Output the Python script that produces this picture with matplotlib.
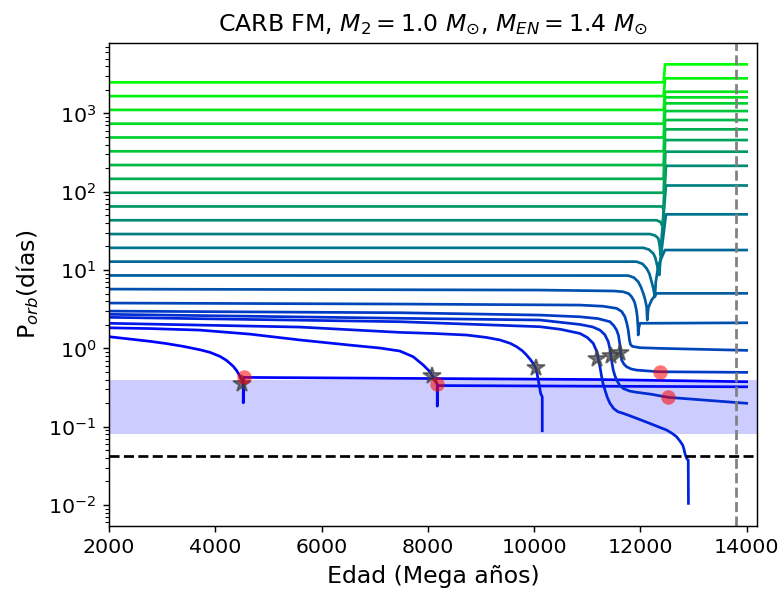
import numpy as np
import matplotlib.pyplot as plt

# Trazas evolutivas: (edad [Myr], P_orb [días]), de la más compacta a la más ancha
traza_00 = [(2000, 1.41), (2457, 1.30), (2772, 1.23), (3086, 1.15), (3398, 1.06),
            (3712, 0.96), (3901, 0.89), (4089, 0.79), (4215, 0.70), (4339, 0.59),
            (4403, 0.52), (4465, 0.44), (4500, 0.39), (4527, 0.357), (4527, 0.202),
            (4535, 0.426), (11240, 0.40), (14000, 0.375)]
traza_01 = [(2000, 1.83), (2772, 1.79), (3712, 1.71), (4653, 1.52), (5594, 1.28),
            (6535, 1.10), (7100, 1.01), (7476, 0.924), (7726, 0.781), (7915, 0.612),
            (8041, 0.503), (8100, 0.43), (8135, 0.394), (8178, 0.347), (8178, 0.183),
            (8185, 0.335), (14000, 0.323)]
traza_02 = [(2000, 2.09), (5594, 1.87), (7476, 1.60), (8100, 1.55), (8731, 1.48),
            (9100, 1.38), (9358, 1.28), (9550, 1.16), (9672, 1.05), (9780, 0.93),
            (9860, 0.82), (9930, 0.72), (9985, 0.64), (10035, 0.556), (10079, 0.394),
            (10124, 0.266), (10154, 0.24), (10154, 0.0887)]
traza_03 = [(2000, 2.49), (7476, 2.19), (10111, 1.89), (10500, 1.75), (10863, 1.55),
            (11000, 1.38), (11113, 1.16), (11178, 0.92), (11208, 0.74), (11240, 0.58),
            (11272, 0.434), (11300, 0.35), (11334, 0.294), (11380, 0.235), (11428, 0.199),
            (11500, 0.17), (11580, 0.155), (11678, 0.148), (11800, 0.138), (11930, 0.128),
            (12180, 0.110), (12350, 0.099), (12495, 0.0906), (12600, 0.082),
            (12683, 0.0743), (12750, 0.065), (12796, 0.0583), (12820, 0.052),
            (12839, 0.0456), (12860, 0.041), (12880, 0.0385), (12901, 0.0375),
            (12905, 0.0105)]
traza_04 = [(2000, 2.72), (7476, 2.42), (10111, 2.30), (10863, 2.02), (11100, 1.88),
            (11240, 1.71), (11330, 1.50), (11396, 1.22), (11425, 1.0), (11445, 0.82),
            (11465, 0.66), (11490, 0.528), (11520, 0.45), (11554, 0.394), (11610, 0.34),
            (11678, 0.308), (11800, 0.285), (11930, 0.275), (12200, 0.26), (12525, 0.237),
            (14000, 0.199)]
traza_05 = [(2000, 2.99), (7476, 2.85), (10111, 2.66), (10863, 2.53), (11200, 2.40),
            (11428, 2.19), (11500, 1.95), (11554, 1.71), (11590, 1.45), (11616, 1.10),
            (11632, 0.863), (11648, 0.709), (11690, 0.63), (11742, 0.582), (11830, 0.545),
            (11930, 0.528), (12337, 0.503), (14000, 0.494)]
traza_06 = [(2000, 3.79), (7476, 3.68), (10863, 3.57), (11300, 3.45), (11554, 3.24),
            (11650, 2.95), (11710, 2.53), (11745, 2.10), (11772, 1.71), (11795, 1.28),
            (11815, 1.12), (11850, 1.06), (11992, 1.02), (12369, 1.0), (14000, 0.943)]
traza_07 = [(2000, 5.71), (10111, 5.55), (11500, 5.40), (11678, 5.28), (11780, 5.0),
            (11836, 4.56), (11875, 4.1), (11898, 3.75), (11925, 3.1), (11942, 2.53),
            (11955, 1.9), (11960, 1.48), (11970, 1.8), (11992, 2.09), (14000, 2.12)]
traza_08 = [(2000, 8.53), (11771, 8.5), (11880, 8.0), (11960, 7.08), (12010, 6.1),
            (12055, 5.04), (12090, 4.2), (12118, 3.40), (12130, 2.30), (12150, 3.3),
            (12212, 4.14), (12307, 5.04), (14000, 5.04)]
traza_09 = [(2000, 12.8), (11928, 12.8), (12040, 12.0), (12118, 10.5), (12170, 9.0),
            (12212, 7.08), (12245, 5.8), (12275, 4.56), (12290, 7.0), (12340, 11.5),
            (12420, 15.5), (12463, 18.0), (14000, 18.0)]
traza_10 = [(2000, 19.2), (12055, 19.2), (12160, 18.3), (12243, 16.3), (12280, 14.5),
            (12307, 12.2), (12335, 10.0), (12356, 8.63), (12380, 14.0), (12482, 51.4),
            (14000, 51.4)]
traza_11 = [(2000, 28.8), (12181, 28.8), (12280, 27.5), (12337, 25.4), (12362, 21.0),
            (12382, 15.5), (12400, 25.0), (12482, 120), (14000, 120)]
traza_12 = [(2000, 43.2), (12307, 43.2), (12380, 41.0), (12420, 35.7), (12482, 214),
            (14000, 214)]
traza_13 = [(2000, 64.8), (12400, 64.8), (12440, 60.0), (12470, 324), (14000, 324)]
traza_14 = [(2000, 97.0), (12440, 97.0), (12465, 456), (14000, 456)]
traza_15 = [(2000, 146), (12440, 146), (12465, 625), (14000, 625)]
traza_16 = [(2000, 219), (12440, 219), (12465, 822), (14000, 822)]
traza_17 = [(2000, 328), (12440, 328), (12465, 1070), (14000, 1070)]
traza_18 = [(2000, 492), (12440, 492), (12465, 1342), (14000, 1342)]
traza_19 = [(2000, 738), (12440, 738), (12465, 1601), (14000, 1601)]
traza_20 = [(2000, 1107), (12440, 1107), (12465, 1888), (14000, 1888)]
traza_21 = [(2000, 1660), (12440, 1660), (12465, 2800), (14000, 2800)]
traza_22 = [(2000, 2490), (12440, 2490), (12465, 4225), (14000, 4225)]

trazas = [traza_00, traza_01, traza_02, traza_03, traza_04, traza_05, traza_06,
          traza_07, traza_08, traza_09, traza_10, traza_11, traza_12, traza_13,
          traza_14, traza_15, traza_16, traza_17, traza_18, traza_19, traza_20,
          traza_21, traza_22]

# inicio de la transferencia de masa (estrellas) y estado actual (puntos rojos)
edad_rlof = [4497, 8084, 10035, 11178, 11440, 11625]
porb_rlof = [0.347, 0.443, 0.556, 0.74, 0.80, 0.863]
edad_obs = [4546, 8178, 12369, 12525]
porb_obs = [0.426, 0.347, 0.503, 0.237]

edad_universo = 13800
p_min = 1 / 24          # 1 hora
banda = (0.08, 0.4)
yticks = [1e-2, 1e-1, 1e0, 1e1, 1e2, 1e3]

fig = plt.figure(figsize=(784 / 130.5, 594 / 130.5), dpi=130.5)
ax = fig.add_axes([0.139, 0.115, 0.8262, 0.8121])

n = len(trazas)
for i, tr in enumerate(trazas):
    t = i / (n - 1)
    edad = [p[0] for p in tr]
    porb = [p[1] for p in tr]
    ax.plot(edad, porb, color=(0, t, 1 - t), lw=1.5)

ax.axhspan(banda[0], banda[1], color="blue", alpha=0.2, lw=0)
ax.axhline(p_min, color="k", ls="--", lw=1.5)
ax.axvline(edad_universo, color="gray", ls="--", lw=1.5)

ax.plot(edad_rlof, porb_rlof, "*", color="0.25", ms=10, alpha=0.7, ls="none")
ax.plot(edad_obs, porb_obs, "o", color="red", ms=8, alpha=0.55, ls="none", mew=0)

ax.set_yscale("log")
ax.set_yticks(yticks)
ax.set_xlim(2000, 14190)
ax.set_ylim(0.00545, 7840)
ax.tick_params(labelsize=11.3)
ax.set_xlabel("Edad (Mega años)", fontsize=13)
ax.set_ylabel("P$_{orb}$(días)", fontsize=13)
ax.set_title(r"CARB FM, $M_2 = 1.0\ M_{\odot}$, $M_{EN} = 1.4\ M_{\odot}$", fontsize=13)

fig.savefig("out.png", dpi=130.5)
